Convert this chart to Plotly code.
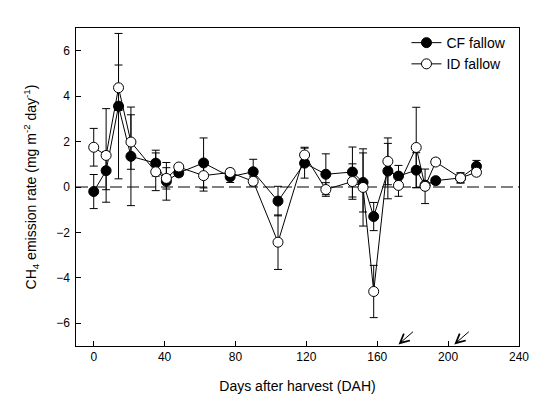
import plotly.graph_objects as go

# Days after harvest (sampling dates)
dah = [0, 7, 14, 21, 35, 41, 48, 62, 77, 90, 104, 119, 131, 146, 152, 158, 166, 172, 182, 187, 193, 207, 216]

# CF fallow: mean CH4 emission rate and error
cf_mean = [-0.2, 0.72, 3.56, 1.35, 1.05, 0.25, 0.62, 1.06, 0.45, 0.67, -0.62, 1.05, 0.56, 0.66, 0.2, -1.3, 0.7, 0.48, 0.74, 0.08, 0.28, 0.4, 0.91]
cf_err = [0.75, 0.84, 3.2, 2.17, 0.57, 0.83, 0.15, 1.1, 0.25, 0.55, 0.65, 0.66, 0.9, 1.1, 1.3, 0.62, 1.22, 0.47, 0.77, 0.1, 0.12, 0.22, 0.26]

# ID fallow: mean CH4 emission rate and error
id_mean = [1.75, 1.39, 4.37, 1.98, 0.67, 0.38, 0.88, 0.5, 0.64, 0.25, -2.43, 1.41, -0.11, 0.24, -0.02, -4.6, 1.13, 0.07, 1.74, 0.03, 1.1, 0.4, 0.65]
id_err = [0.83, 2.06, 1.0, 1.2, 0.83, 0.47, 0.1, 0.68, 0.15, 0.2, 1.2, 0.34, 0.3, 0.78, 1.7, 1.15, 1.03, 0.48, 1.77, 0.76, 0.15, 0.22, 0.15]

# arrow positions (DAH)
arrow_days = [172, 203.5]

x_ticks = [0, 40, 80, 120, 160, 200, 240]
y_ticks = [-6, -4, -2, 0, 2, 4, 6]

FONT = "Arial, Liberation Sans, sans-serif"

fig = go.Figure()

fig.add_trace(go.Scatter(
    x=dah, y=cf_mean, name="CF fallow", mode="lines+markers",
    line=dict(color="black", width=1),
    marker=dict(symbol="circle", size=10, color="black", line=dict(color="black", width=1)),
    error_y=dict(type="data", array=cf_err, visible=True, color="black", thickness=1, width=4),
))
fig.add_trace(go.Scatter(
    x=dah, y=id_mean, name="ID fallow", mode="lines+markers",
    line=dict(color="black", width=1),
    marker=dict(symbol="circle", size=10, color="white", line=dict(color="black", width=1)),
    error_y=dict(type="data", array=id_err, visible=True, color="black", thickness=1, width=4),
))
# empty helper trace so the label axis (y2) is drawn
fig.add_trace(go.Scatter(x=[], y=[], yaxis="y2", showlegend=False, hoverinfo="skip"))

fig.add_shape(type="line", xref="x", yref="y", x0=-10, x1=240, y0=0, y1=0,
              line=dict(color="black", width=1, dash="12px,5px"), layer="below")

for d in arrow_days:
    fig.add_annotation(x=d, y=-6.93, xref="x", yref="y", text="", showarrow=True,
                       ax=16, ay=-14, arrowhead=5, arrowsize=1.8, arrowwidth=1, arrowcolor="black")

fig.update_layout(
    width=545, height=397,
    margin=dict(l=68, r=34, t=20, b=59, autoexpand=False),
    paper_bgcolor="white", plot_bgcolor="white",
    font=dict(family=FONT, size=12, color="black"),
    showlegend=True,
    legend=dict(x=0.746, y=1.003, xanchor="left", yanchor="top",
                bgcolor="rgba(0,0,0,0)", font=dict(family=FONT, size=14),
                tracegroupgap=0, itemwidth=30),
    yaxis2=dict(overlaying="y", side="left", anchor="x", range=[-7, 7], tickvals=y_ticks,
                ticks="", showline=False, showgrid=False, zeroline=False, automargin=False,
                ticklabelstandoff=5, tickfont=dict(family=FONT, size=12)),
)
fig.update_xaxes(
    range=[-10, 240], tickvals=x_ticks, ticks="inside", ticklen=5, tickcolor="black",
    showline=True, linecolor="black", linewidth=1, mirror=True, showgrid=False, zeroline=False,
    automargin=False,
    title=dict(text="Days after harvest (DAH)", font=dict(family=FONT, size=14), standoff=17),
    tickfont=dict(family=FONT, size=12),
)
fig.layout.yaxis.update(
    range=[-7, 7], tickvals=y_ticks, ticks="inside", ticklen=5, tickcolor="black",
    showline=True, linecolor="black", linewidth=1, mirror=True, showgrid=False, zeroline=False,
    automargin=False, showticklabels=False,
    title=dict(text="CH<sub>4</sub> emission rate (mg m<sup>-2</sup> day<sup>-1</sup>)",
               font=dict(family=FONT, size=14), standoff=35),
)

fig.write_html("out.html")
